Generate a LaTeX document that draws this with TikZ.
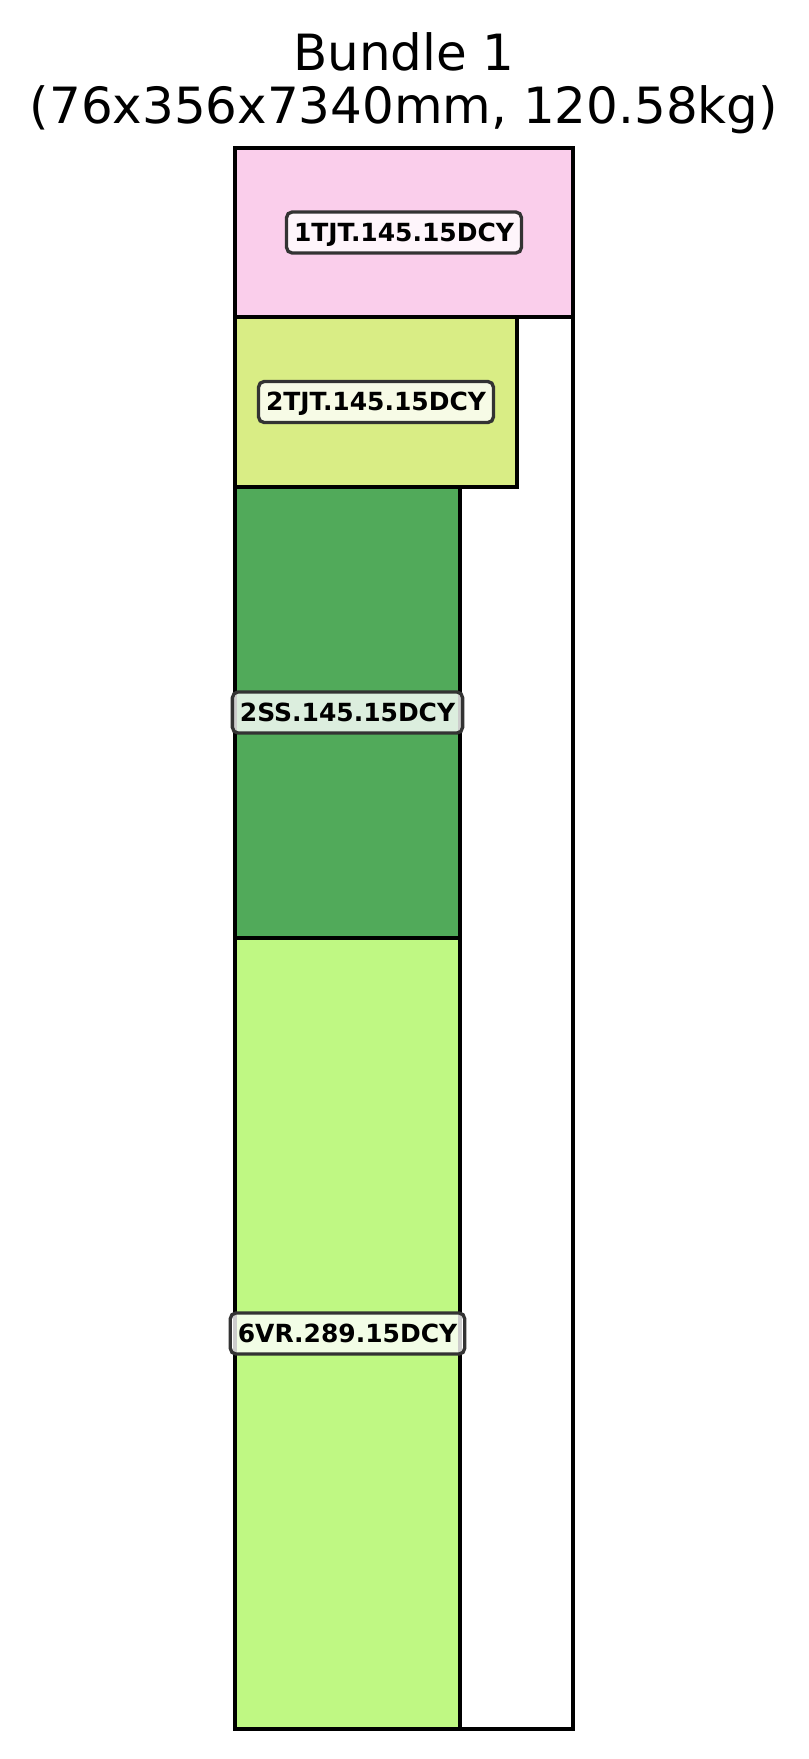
\documentclass[tikz,border=0pt]{standalone}
\usepackage{fontspec}
\setmainfont{DejaVu Sans}
\usepackage{xcolor}
\definecolor{pinkcol}{RGB}{250,206,235}
\definecolor{limecol}{RGB}{217,237,133}
\definecolor{greencol}{RGB}{81,170,90}
\definecolor{lightgreen}{RGB}{191,248,131}
\usetikzlibrary{positioning}

\begin{document}
\begin{tikzpicture}[
      x=0.01cm,y=-0.01cm,
      piece/.style={draw=black,line width=1.1pt},
      tag/.style={draw=black!80,line width=0.95pt,rounded corners=1.6pt,fill=white,fill opacity=0.8,text opacity=1,
        font=\fontsize{7.1}{8}\selectfont\bfseries,inner xsep=0.75mm,inner ysep=1.0mm,text height=1.9mm,text depth=0.2mm},
      headline/.style={font=\fontsize{14.2}{17}\selectfont,anchor=base}
    ]
      \useasboundingbox (0,0) rectangle (808,1759);
      % Title
      \node[headline] (title) at (404,70) {Bundle 1};
      \node[headline] (dims) at (404,123) {(76x356x7340mm, 120.58kg)};
      % Bundle outline
      \draw[piece,fill=white] (235,148) rectangle (573,1729);
      % Pieces (top to bottom)
      \draw[piece,fill=pinkcol]    (235,148) rectangle (573,317);
      \draw[piece,fill=limecol]    (235,317) rectangle (517,487);
      \draw[piece,fill=greencol]   (235,487) rectangle (460,938);
      \draw[piece,fill=lightgreen] (235,938) rectangle (460,1729);
      % Labels
      \node[tag] (p1) at (404,232.5) {1TJT.145.15DCY};
      \node[tag] (p2) at (376,402)   {2TJT.145.15DCY};
      \node[tag] (p3) at (347.5,712.5) {2SS.145.15DCY};
      \node[tag] (p4) at (347.5,1333.5) {6VR.289.15DCY};
    \end{tikzpicture}
\end{document}
